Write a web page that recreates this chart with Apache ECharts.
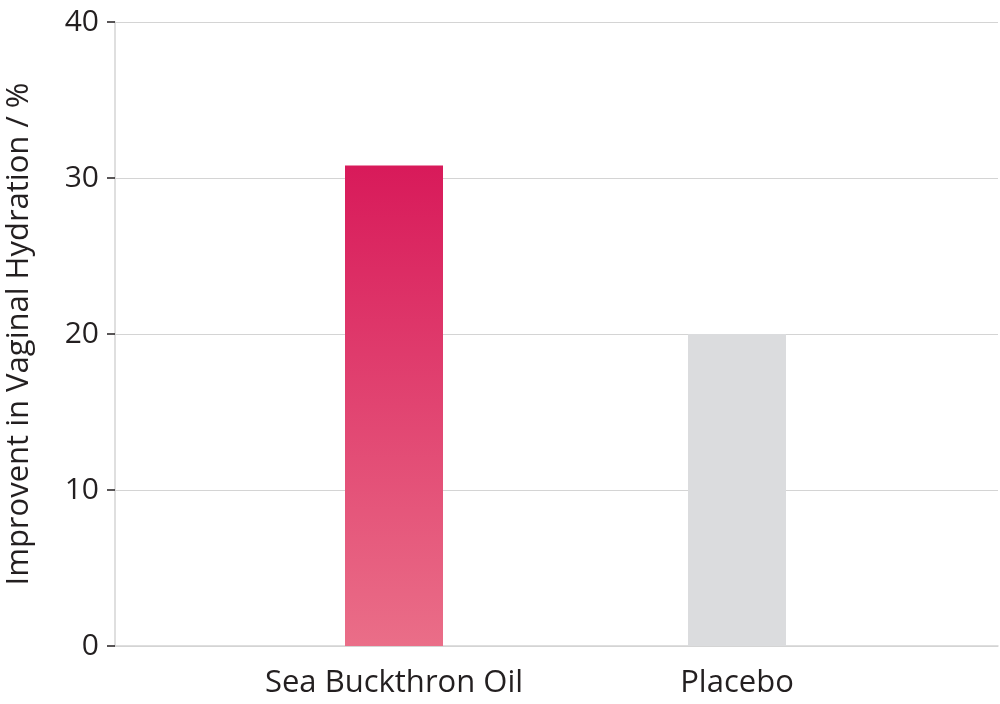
<!DOCTYPE html>
<html>
<head>
<meta charset="utf-8">
<script src="https://cdn.jsdelivr.net/npm/echarts@6/dist/echarts.min.js"></script>
<style>
  html, body { margin: 0; padding: 0; background: #fff; }
  #chart { width: 1000px; height: 704px; }
</style>
</head>
<body>
<div id="chart"></div>
<script>
// 数据
const categories = ['Sea Buckthron Oil', 'Placebo']
const values = [30.8, 20]
const yTicks = { min: 0, max: 40, interval: 10 }
const yName = 'Improvent in Vaginal Hydration / %'

const textColor = '#231f20'
const fontFamily = '"Open Sans", "Noto Sans", sans-serif'

const chart = echarts.init(document.getElementById('chart'))

// 柱子颜色：第一根渐变，第二根灰色
const barColors = [
  new echarts.graphic.LinearGradient(0, 0, 0, 1, [
    { offset: 0, color: '#d81a5a' },
    { offset: 1, color: '#ea6e88' }
  ]),
  '#dbdcde'
]

const option = {
  animation: false,
  backgroundColor: '#fff',
  grid: [
    // 整个绘图区：坐标轴和网格线
    { left: 115, right: 2, top: 22, bottom: 58, outerBoundsMode: 'none', containLabel: false },
    // 柱子所在区域
    { left: 222.5, right: 91.5, top: 22, bottom: 58, outerBoundsMode: 'none', containLabel: false }
  ],
  xAxis: [
    {
      gridIndex: 0,
      type: 'category',
      data: [''],
      axisLine: { show: true, lineStyle: { color: '#d4d4d4', width: 1.5 } },
      axisTick: { show: false },
      axisLabel: { show: false }
    },
    {
      gridIndex: 1,
      type: 'category',
      data: categories,
      axisLine: { show: false },
      axisTick: { show: false },
      axisLabel: {
        color: textColor,
        fontFamily: fontFamily,
        fontSize: 31,
        margin: 22
      }
    }
  ],
  yAxis: [
    {
      gridIndex: 0,
      type: 'value',
      min: yTicks.min,
      max: yTicks.max,
      interval: yTicks.interval,
      name: yName,
      nameLocation: 'middle',
      nameGap: 80,
      nameTextStyle: { color: textColor, fontFamily: fontFamily, fontSize: 31 },
      axisLine: { show: true, lineStyle: { color: '#d4d4d4', width: 1.5 } },
      axisTick: { show: true, length: 8, lineStyle: { color: textColor, width: 1.5 } },
      axisLabel: { color: textColor, fontFamily: fontFamily, fontSize: 30, margin: 16 },
      splitLine: { show: true, lineStyle: { color: '#d4d4d4', width: 1.2 } }
    },
    {
      gridIndex: 1,
      type: 'value',
      min: yTicks.min,
      max: yTicks.max,
      interval: yTicks.interval,
      show: false,
      splitLine: { show: false }
    }
  ],
  series: [
    {
      type: 'bar',
      xAxisIndex: 1,
      yAxisIndex: 1,
      barWidth: 98,
      data: values.map((v, i) => ({ value: v, itemStyle: { color: barColors[i] } }))
    }
  ]
}

chart.setOption(option)
</script>
</body>
</html>
